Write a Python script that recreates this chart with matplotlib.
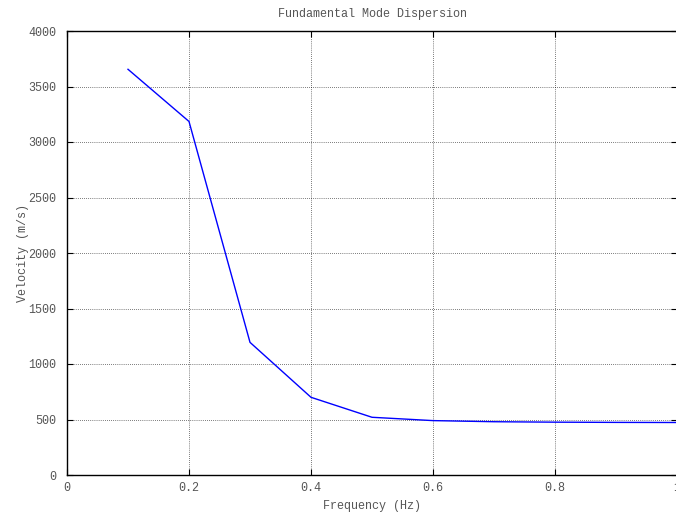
import numpy as np
import matplotlib.pyplot as plt

# dispersion curve
freq = [0.1, 0.2, 0.3, 0.4, 0.5, 0.6, 0.7, 0.8, 0.9, 1.0]
velocity = [3655, 3185, 1195, 700, 520, 490, 480, 476, 474, 473]

xticks = [0, 0.2, 0.4, 0.6, 0.8, 1]
xticklabels = ["0", "0.2", "0.4", "0.6", "0.8", "1"]
yticks = [0, 500, 1000, 1500, 2000, 2500, 3000, 3500, 4000]

plt.rcParams['font.family'] = ['Liberation Mono', 'DejaVu Sans Mono']
plt.rcParams['font.size'] = 8.5

txt = '#555555'

fig = plt.figure(figsize=(6.76, 5.16), dpi=100)
ax = fig.add_axes([67 / 676, 41 / 516, 610 / 676, 444 / 516])

ax.plot(freq, velocity, color='blue', linewidth=1)

ax.set_xlim(0, 1)
ax.set_ylim(0, 4000)
ax.set_xticks(xticks)
ax.set_xticklabels(xticklabels)
ax.set_yticks(yticks)

ax.grid(color='black', linestyle=(0, (1, 2)), linewidth=0.5)
ax.tick_params(direction='in', length=4, width=0.8, top=True, right=True,
               colors='black', labelcolor=txt, pad=5)
ax.tick_params(axis='y', pad=8)
for s in ax.spines.values():
    s.set_linewidth(1.0)
    s.set_clip_on(False)

ax.set_title("Fundamental Mode Dispersion", color=txt, fontsize=8.5, pad=10)
ax.set_xlabel("Frequency (Hz)", color=txt, labelpad=4)
ax.set_ylabel("Velocity (m/s)", color=txt, labelpad=-1)

fig.savefig("out.png", dpi=100)
